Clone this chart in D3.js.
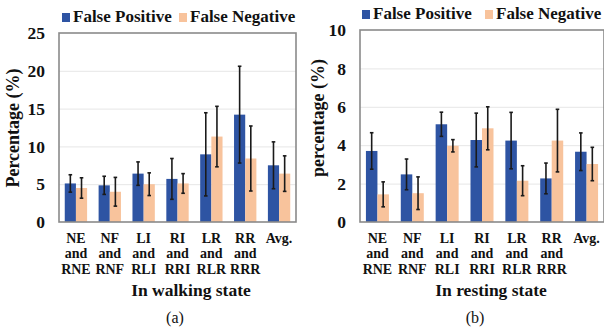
<!DOCTYPE html>
<html>
<head>
<meta charset="utf-8">
<script src="https://cdn.jsdelivr.net/npm/d3@7"></script>
<style>
  body { margin: 0; background: #fff; }
  svg { display: block; }
  svg text { font-family: "Liberation Serif", "Times New Roman", serif; }
</style>
</head>
<body>
<svg id="chart" width="604" height="328"></svg>
<script>
// Category tick labels (one entry per line)
var categories = [
  ["NE", "and", "RNE"],
  ["NF", "and", "RNF"],
  ["LI", "and", "RLI"],
  ["RI", "and", "RRI"],
  ["LR", "and", "RLR"],
  ["RR", "and", "RRR"],
  ["Avg."]
];
var seriesNames = ["False Positive", "False Negative"];

// walking state (a)
var walkingFP    = [5.1, 4.85, 6.4, 5.7, 8.95, 14.2, 7.5];
var walkingFPErr = [1.15, 1.2, 1.55, 2.7, 5.5, 6.4, 3.1];
var walkingFN    = [4.5, 4.0, 5.0, 5.1, 11.3, 8.4, 6.4];
var walkingFNErr = [1.35, 1.9, 1.5, 1.3, 4.0, 4.3, 2.35];
var walkingTicks = [0, 5, 10, 15, 20, 25];

// resting state (b)
var restingFP    = [3.7, 2.48, 5.09, 4.27, 4.24, 2.27, 3.66];
var restingFPErr = [0.95, 0.8, 0.63, 1.4, 1.47, 0.8, 0.98];
var restingFN    = [1.44, 1.5, 3.97, 4.88, 2.15, 4.24, 3.02];
var restingFNErr = [0.65, 0.85, 0.32, 1.12, 0.78, 1.63, 0.87];
var restingTicks = [0, 2, 4, 6, 8, 10];

var colors = ["#2e54a3", "#f8c39c"];
var serif = "Liberation Serif, Times New Roman, serif";
var svg = d3.select("#chart");

function drawPanel(opts) {
  var g = svg.append("g")
      .attr("transform", "translate(" + opts.left + "," + opts.top + ")");
  var width = opts.width, height = opts.height;

  var x = d3.scaleBand()
      .domain(d3.range(categories.length))
      .range([0, width])
      .paddingInner(0.34)
      .paddingOuter(0.17);
  var xs = d3.scaleBand()
      .domain([0, 1])
      .range([0, x.bandwidth()]);
  var y = d3.scaleLinear()
      .domain([0, opts.max])
      .range([height, 0]);

  // gridlines
  g.append("g")
      .call(d3.axisLeft(y).tickValues(opts.ticks.slice(1, -1)).tickSize(-width).tickFormat(""))
      .call(function(s) {
        s.select(".domain").remove();
        s.selectAll("line").attr("stroke", "#e6e6e6").attr("stroke-width", 1);
      });

  // y tick labels
  g.append("g")
      .attr("transform", "translate(-8,0)")
      .call(d3.axisLeft(y).tickValues(opts.ticks).tickSize(0).tickPadding(6))
      .call(function(s) {
        s.select(".domain").remove();
        s.selectAll("text")
          .attr("font-family", serif)
          .attr("font-weight", "bold")
          .attr("font-size", 17.5)
          .attr("fill", "#111");
      });

  // bars
  var series = [opts.fp, opts.fn];
  var errs = [opts.fpErr, opts.fnErr];
  series.forEach(function(vals, si) {
    g.selectAll(".bar" + si)
      .data(vals)
      .enter().append("rect")
        .attr("x", function(d, i) { return x(i) + xs(si); })
        .attr("width", xs.bandwidth())
        .attr("y", function(d) { return y(d); })
        .attr("height", function(d) { return height - y(d); })
        .attr("fill", colors[si]);
  });

  // error bars
  series.forEach(function(vals, si) {
    var eg = g.selectAll(".err" + si)
      .data(vals)
      .enter().append("g")
        .attr("transform", function(d, i) {
          return "translate(" + (x(i) + xs(si) + xs.bandwidth() / 2) + ",0)";
        });
    eg.append("line")
      .attr("y1", function(d, i) { return y(d + errs[si][i]); })
      .attr("y2", function(d, i) { return y(Math.max(0, d - errs[si][i])); })
      .attr("stroke", "#1a1a1a").attr("stroke-width", 1.6);
    eg.append("line")
      .attr("x1", -1.8).attr("x2", 1.8)
      .attr("y1", function(d, i) { return y(d + errs[si][i]); })
      .attr("y2", function(d, i) { return y(d + errs[si][i]); })
      .attr("stroke", "#1a1a1a").attr("stroke-width", 1.6);
    eg.append("line")
      .attr("x1", -1.8).attr("x2", 1.8)
      .attr("y1", function(d, i) { return y(Math.max(0, d - errs[si][i])); })
      .attr("y2", function(d, i) { return y(Math.max(0, d - errs[si][i])); })
      .attr("stroke", "#1a1a1a").attr("stroke-width", 1.6);
  });

  // frame
  g.append("rect")
      .attr("width", width).attr("height", height)
      .attr("fill", "none")
      .attr("stroke", "#8a8a8a")
      .attr("stroke-width", 1.6);

  // x category labels
  var xAxis = g.append("g")
      .attr("transform", "translate(0," + height + ")")
      .call(d3.axisBottom(x).tickSize(0).tickFormat(""));
  xAxis.select(".domain").remove();
  xAxis.selectAll(".tick").each(function(d) {
    var t = d3.select(this).append("text")
        .attr("fill", "#111")
        .attr("font-family", serif)
        .attr("font-weight", "bold")
        .attr("font-size", 14)
        .attr("text-anchor", "middle");
    categories[d].forEach(function(line, li) {
      t.append("tspan").attr("x", 0).attr("y", 21 + li * 15.3).text(line);
    });
  });

  // x title
  g.append("text")
      .attr("x", opts.titleX).attr("y", height + 74)
      .attr("text-anchor", "middle")
      .attr("font-family", serif)
      .attr("font-weight", "bold").attr("font-size", 17.5)
      .attr("fill", "#111")
      .text(opts.xTitle);

  // panel letter
  g.append("text")
      .attr("x", opts.titleX - 16).attr("y", height + 101)
      .attr("text-anchor", "middle")
      .attr("font-family", serif)
      .attr("font-size", 16)
      .attr("fill", "#111")
      .text(opts.letter);

  // y title
  g.append("text")
      .attr("transform", "rotate(-90)")
      .attr("x", -opts.yTitleY).attr("y", opts.yTitleX)
      .attr("text-anchor", "middle")
      .attr("font-family", serif)
      .attr("font-weight", "bold").attr("font-size", 18)
      .attr("fill", "#111")
      .text(opts.yTitle);

  // legend
  var lg = g.append("g").attr("transform", "translate(" + opts.legendX + ",-14)");
  var offs = [0, opts.legendGap];
  seriesNames.forEach(function(name, si) {
    lg.append("rect")
      .attr("x", offs[si]).attr("y", -6)
      .attr("width", 8).attr("height", 9)
      .attr("fill", colors[si]);
    lg.append("text")
      .attr("x", offs[si] + 11).attr("y", 3)
      .attr("font-family", serif)
      .attr("font-weight", "bold").attr("font-size", 17)
      .attr("fill", "#111")
      .text(name);
  });
}

drawPanel({
  left: 59, top: 33, width: 237, height: 189,
  max: 25, ticks: walkingTicks,
  fp: walkingFP, fpErr: walkingFPErr, fn: walkingFN, fnErr: walkingFNErr,
  xTitle: "In walking state", titleX: 132, letter: "(a)",
  yTitle: "Percentage (%)", yTitleX: -40, yTitleY: 95,
  legendX: 3, legendGap: 117
});

drawPanel({
  left: 360, top: 30, width: 244, height: 192,
  max: 10, ticks: restingTicks,
  fp: restingFP, fpErr: restingFPErr, fn: restingFN, fnErr: restingFNErr,
  xTitle: "In resting state", titleX: 131, letter: "(b)",
  yTitle: "percentage (%)", yTitleX: -36, yTitleY: 88,
  legendX: 2, legendGap: 123
});
</script>
</body>
</html>
